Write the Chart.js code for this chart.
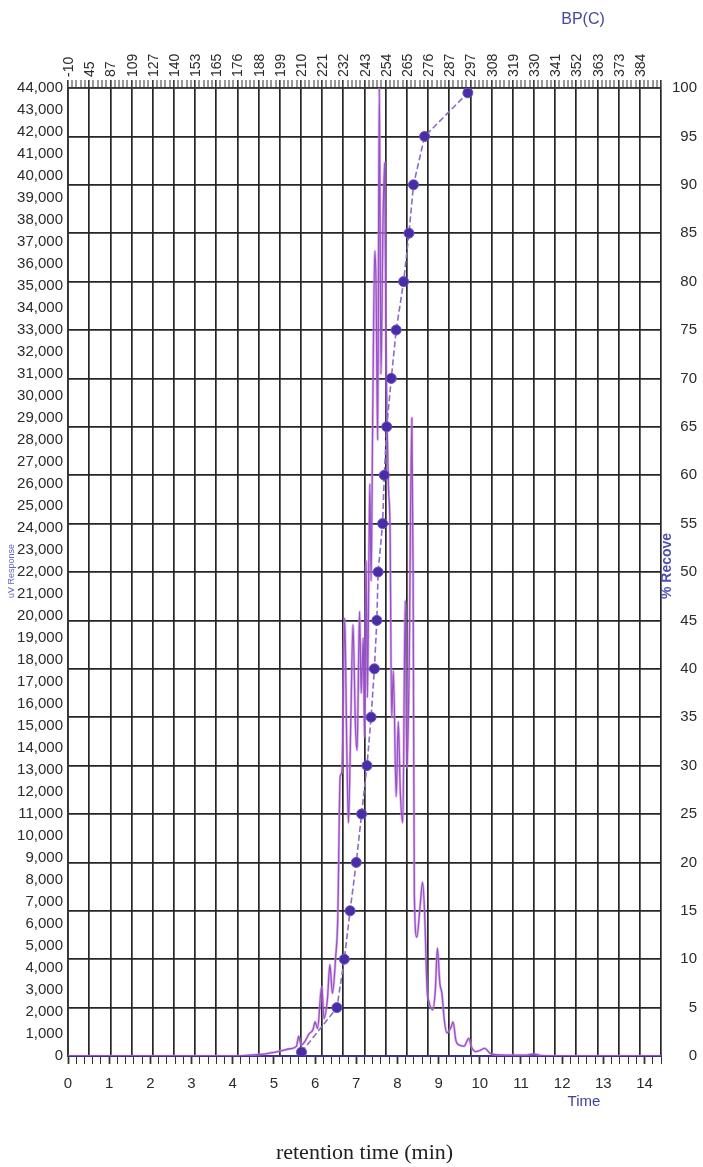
<!DOCTYPE html>
<html>
<head>
<meta charset="utf-8">
<script src="https://cdn.jsdelivr.net/npm/chart.js@4.4.1/dist/chart.umd.min.js"></script>
<style>
html,body{margin:0;padding:0;background:#fff;}
#wrap{position:relative;width:703px;height:1167px;}
</style>
</head>
<body>
<div id="wrap"><canvas id="c"></canvas></div>
<script>
// ---- data ----
const bpLabels = ['-10','45','87','109','127','140','153','165','176','188','199','210','221','232',
                  '243','254','265','276','287','297','308','319','330','341','352','363','373','384'];
const timeLabels = ['0','1','2','3','4','5','6','7','8','9','10','11','12','13','14'];

// chromatogram trace (time in min, signal)
const traceTime = [0, 4.1, 4.4, 4.8, 5.1, 5.4, 5.55, 5.6, 5.66, 5.75, 5.85, 5.95, 6.0, 6.06, 6.16, 6.22, 6.3, 6.36, 6.42, 6.5,
  6.55, 6.61, 6.65, 6.72, 6.77, 6.81, 6.87, 6.92, 6.98, 7.02, 7.08, 7.12, 7.17, 7.2, 7.24, 7.27, 7.33, 7.36, 7.4, 7.45,
  7.48, 7.52, 7.56, 7.6, 7.65, 7.69, 7.72, 7.78, 7.82, 7.86, 7.9, 7.97, 8.02, 8.07, 8.13, 8.19, 8.23, 8.28, 8.35, 8.38,
  8.41, 8.47, 8.55, 8.61, 8.66, 8.72, 8.76, 8.86, 8.92, 8.97, 9.03, 9.08, 9.14, 9.2, 9.3, 9.35, 9.42, 9.5, 9.62, 9.73,
  9.8, 9.9, 10.0, 10.12, 10.25, 10.4, 10.8, 11.1, 11.3, 11.5, 11.7, 14.4];
const traceSignal = [0, 0, 40, 100, 200, 330, 450, 900, 500, 650, 1000, 1200, 1550, 1250, 3150, 1700, 2600, 4150, 2850, 4500,
  6200, 12700, 12900, 19900, 14000, 10600, 15500, 19600, 15000, 13900, 20200, 16500, 19000, 14500, 22500, 16300, 26000, 21600, 29200, 36600,
  35100, 28000, 44000, 31000, 38000, 40600, 32700, 26000, 24000, 15400, 17500, 11800, 15200, 12000, 10600, 20700, 13100, 17000, 29000, 22000,
  7400, 5400, 6800, 7900, 6500, 3000, 2500, 2100, 3000, 4900, 3300, 2850, 1600, 1050, 1300, 1550, 700, 500, 450, 800,
  400, 200, 250, 350, 120, 60, 40, 40, 90, 20, 0, 0];

// % recovered curve
const recTime = [5.67, 6.53, 6.71, 6.85, 7.0, 7.13, 7.26, 7.36, 7.44, 7.5, 7.53, 7.64, 7.68, 7.74, 7.85, 7.97, 8.15, 8.28, 8.39, 8.66, 9.71];
const recPct  = [0.4, 5, 10, 15, 20, 25, 30, 35, 40, 45, 50, 55, 60, 65, 70, 75, 80, 85, 90, 95, 99.5];

// ---- build ----
const tracePts = traceTime.map((t, i) => ({x: t, y: traceSignal[i]}));
const recPts = recTime.map((t, i) => ({x: t, y: recPct[i]}));

Chart.defaults.font.family = "'Liberation Sans', Arial, sans-serif";
Chart.defaults.color = '#2b2b2b';

const isWhole = v => Math.abs(v - Math.round(v)) < 1e-6;
const GRID = '#262626';

const textPlugin = {
  id: 'extraText',
  afterDraw(chart) {
    const ctx = chart.ctx;
    ctx.save();
    ctx.fillStyle = '#4646a8';
    ctx.textAlign = 'center';
    ctx.textBaseline = 'middle';
    ctx.font = "16px 'Liberation Sans', Arial, sans-serif";
    ctx.fillText('BP(C)', 583, 20);
    ctx.font = "15px 'Liberation Sans', Arial, sans-serif";
    ctx.fillStyle = '#3f3fa0';
    ctx.fillText('Time', 584, 1102);
    ctx.save();
    ctx.translate(667, 566);
    ctx.rotate(-Math.PI / 2);
    ctx.fillStyle = '#4e4eb5';
    ctx.font = "bold 14px 'Liberation Sans', Arial, sans-serif";
    ctx.fillText('% Recove', 0, 0);
    ctx.restore();
    ctx.save();
    ctx.translate(12, 571);
    ctx.rotate(-Math.PI / 2);
    ctx.fillStyle = '#6262c0';
    ctx.font = "9px 'Liberation Sans', Arial, sans-serif";
    ctx.fillText('uV Response', 0, 0);
    ctx.restore();
    ctx.restore();
  }
};

new Chart(document.getElementById('c'), {
  type: 'line',
  data: {
    datasets: [
      {
        label: '% Recovered',
        data: recPts,
        xAxisID: 'x', yAxisID: 'y2',
        borderColor: '#8a6cc8',
        borderWidth: 1.6,
        borderDash: [6, 3],
        pointRadius: 5,
        pointBackgroundColor: '#4a2ca6',
        pointBorderColor: '#6a52c4',
        pointBorderWidth: 1,
        tension: 0,
        order: 0
      },
      {
        label: 'Signal',
        data: tracePts,
        xAxisID: 'x', yAxisID: 'y',
        borderColor: '#9650c8',
        borderWidth: 1.3,
        pointRadius: 0,
        cubicInterpolationMode: 'monotone',
        order: 1
      },
      {
        label: 'Signal (halo)',
        data: tracePts,
        xAxisID: 'x', yAxisID: 'y',
        borderColor: 'rgba(204,140,222,0.6)',
        borderWidth: 2.6,
        pointRadius: 0,
        cubicInterpolationMode: 'monotone',
        order: 2
      }
    ]
  },
  options: {
    responsive: true,
    maintainAspectRatio: false,
    animation: false,
    layout: {padding: {left: 0, top: 0, bottom: 0, right: 6}},
    plugins: {legend: {display: false}, tooltip: {enabled: false}},
    scales: {
      x: {
        type: 'linear', position: 'bottom', min: 0, max: 14.4,
        afterBuildTicks: s => { const a = []; for (let i = 0; i <= 72; i++) a.push({value: Math.round(i * 20) / 100}); s.ticks = a; },
        afterFit: s => { s.height = 111; },
        ticks: {
          autoSkip: false, maxRotation: 0, padding: 11,
          font: {size: 15}, color: '#2b2b2b',
          callback: v => (isWhole(v) ? (timeLabels[Math.round(v)] ?? '') : '')
        },
        grid: {
          drawOnChartArea: false, drawTicks: true, tickLength: 8,
          tickColor: '#333', tickWidth: c => (isWhole(c.tick.value) ? 1.8 : 1)
        },
        border: {display: true, color: '#3d2f8f', width: 2},
        title: {
          display: true, text: 'retention time (min)', color: '#222',
          font: {family: "'Liberation Serif', 'Times New Roman', serif", size: 22},
          padding: {top: 0, bottom: 1}
        }
      },
      x2: {
        type: 'linear', position: 'top', min: 0, max: 28,
        afterBuildTicks: s => { const a = []; for (let i = 0; i <= 140; i++) a.push({value: Math.round(i * 20) / 100}); s.ticks = a; },
        afterFit: s => { s.height = 88; },
        ticks: {
          autoSkip: false, minRotation: 90, maxRotation: 90, padding: 3, labelOffset: 18,
          font: {size: 14}, color: '#2b2b2b',
          callback: v => (isWhole(v) ? (bpLabels[Math.round(v)] ?? '') : '')
        },
        grid: {
          drawOnChartArea: true, drawTicks: true, tickLength: 8,
          color: c => (isWhole(c.tick.value) ? GRID : 'rgba(0,0,0,0)'),
          lineWidth: c => (isWhole(c.tick.value) ? 1.7 : 0),
          tickColor: '#333', tickWidth: c => (isWhole(c.tick.value) ? 1.6 : 1)
        },
        border: {display: true, color: '#333', width: 1.5}
      },
      y: {
        type: 'linear', position: 'left', min: 0, max: 44000,
        afterFit: s => { s.width = 68; },
        ticks: {
          stepSize: 1000, padding: 5, font: {size: 15}, color: '#2b2b2b',
          callback: v => v.toLocaleString('en-US')
        },
        grid: {drawOnChartArea: false, drawTicks: false},
        border: {display: true, color: '#333', width: 1.8}
      },
      y2: {
        type: 'linear', position: 'right', min: 0, max: 100,
        afterFit: s => { s.width = 36; },
        ticks: {stepSize: 5, padding: 5, crossAlign: 'far', font: {size: 15}, color: '#2b2b2b'},
        grid: {drawOnChartArea: true, drawTicks: false, color: GRID, lineWidth: 1.7},
        border: {display: false}
      }
    }
  },
  plugins: [textPlugin]
});
</script>
</body>
</html>
